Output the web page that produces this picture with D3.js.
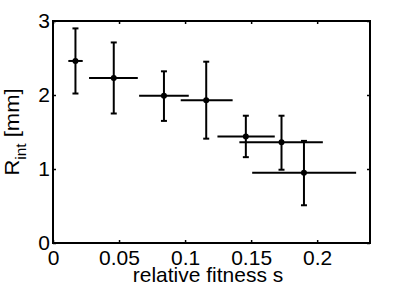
<!DOCTYPE html>
<html>
<head>
<meta charset="utf-8">
<script src="https://cdn.jsdelivr.net/npm/d3@7"></script>
<style>
  body { margin: 0; background: #fff; }
  svg text { font-family: "Liberation Sans", Arial, Helvetica, sans-serif; fill: #000; }
</style>
</head>
<body>
<svg id="chart" width="409" height="290"></svg>
<script>
// measured points: relative fitness s and interaction radius (mm)
var sVals  = [0.017, 0.046, 0.084, 0.116, 0.146, 0.173, 0.190];
var sLow   = [0.0116, 0.0273, 0.0652, 0.0967, 0.1245, 0.1411, 0.1508];
var sHigh  = [0.0225, 0.0642, 0.1028, 0.1360, 0.1679, 0.2043, 0.2295];
var rVals  = [2.46, 2.23, 1.99, 1.93, 1.44, 1.36, 0.95];
var rLow   = [2.02, 1.75, 1.65, 1.41, 1.16, 0.99, 0.51];
var rHigh  = [2.90, 2.71, 2.32, 2.45, 1.72, 1.72, 1.38];

var xTicks = [0, 0.05, 0.1, 0.15, 0.2];
var yTicks = [0, 1, 2, 3];

// plot box (note: "top" is reserved on window, so use pl/pr/pt/pb)
var pl = 53, pr = 370, pt = 21, pb = 243;
var fs = 20, stretch = "scale(1.05,1)";

var x = d3.scaleLinear().domain([0, 0.24]).range([pl, pr]);
var y = d3.scaleLinear().domain([0, 3]).range([pb, pt]);

var svg = d3.select("#chart");

var data = sVals.map(function(s, i) {
	return { s: s, sl: sLow[i], sh: sHigh[i], r: rVals[i], rl: rLow[i], rh: rHigh[i] };
});

// axes, MATLAB style: ticks point inwards on all four sides
var fmt = function(d) { return d3.format("")(d); };

svg.append("g")
		.attr("transform", "translate(0," + pb + ")")
		.call(d3.axisBottom(x).tickValues(xTicks).tickFormat(fmt).tickSizeInner(-3).tickSizeOuter(0).tickPadding(8));
svg.append("g")
		.attr("transform", "translate(0," + pt + ")")
		.call(d3.axisTop(x).tickValues(xTicks).tickFormat("").tickSizeInner(-3).tickSizeOuter(0));
svg.append("g")
		.attr("transform", "translate(" + pl + ",0)")
		.call(d3.axisLeft(y).tickValues(yTicks).tickFormat(fmt).tickSizeInner(-3).tickSizeOuter(0).tickPadding(3));
svg.append("g")
		.attr("transform", "translate(" + pr + ",0)")
		.call(d3.axisRight(y).tickValues(yTicks).tickFormat("").tickSizeInner(-3).tickSizeOuter(0));

svg.selectAll(".domain").remove();
svg.selectAll(".tick line").attr("stroke", "#000").attr("stroke-width", 1.5);
svg.selectAll(".tick text")
		.attr("font-size", fs)
		.attr("font-family", null)
		.attr("transform", stretch);

// frame
svg.append("rect")
		.attr("x", pl).attr("y", pt)
		.attr("width", pr - pl).attr("height", pb - pt)
		.attr("fill", "none")
		.attr("stroke", "#000")
		.attr("stroke-width", 2);

// error bars
var g = svg.selectAll(".pt")
		.data(data)
	.enter().append("g")
		.attr("class", "pt")
		.attr("stroke", "#000")
		.attr("stroke-width", 2);

g.append("line")
		.attr("x1", function(d) { return x(d.sl); })
		.attr("x2", function(d) { return x(d.sh); })
		.attr("y1", function(d) { return y(d.r); })
		.attr("y2", function(d) { return y(d.r); });

g.append("line")
		.attr("x1", function(d) { return x(d.s); })
		.attr("x2", function(d) { return x(d.s); })
		.attr("y1", function(d) { return y(d.rl); })
		.attr("y2", function(d) { return y(d.rh); });

g.append("line")
		.attr("x1", function(d) { return x(d.s) - 3; })
		.attr("x2", function(d) { return x(d.s) + 3; })
		.attr("y1", function(d) { return y(d.rh); })
		.attr("y2", function(d) { return y(d.rh); });

g.append("line")
		.attr("x1", function(d) { return x(d.s) - 3; })
		.attr("x2", function(d) { return x(d.s) + 3; })
		.attr("y1", function(d) { return y(d.rl); })
		.attr("y2", function(d) { return y(d.rl); });

g.append("circle")
		.attr("cx", function(d) { return x(d.s); })
		.attr("cy", function(d) { return y(d.r); })
		.attr("r", 3)
		.attr("fill", "#000")
		.attr("stroke", "none");

// axis labels
svg.append("text")
		.attr("transform", "translate(208,282) " + stretch)
		.attr("text-anchor", "middle")
		.attr("font-size", fs)
		.text("relative fitness s");

var ylab = svg.append("text")
		.attr("transform", "translate(18.5,132) rotate(-90) scale(1.1,1)")
		.attr("text-anchor", "middle")
		.attr("font-size", fs);
ylab.append("tspan").text("R");
ylab.append("tspan").attr("font-size", 14).attr("dy", 7).text("int");
ylab.append("tspan").attr("dy", -7).text(" [mm]");
</script>
</body>
</html>
